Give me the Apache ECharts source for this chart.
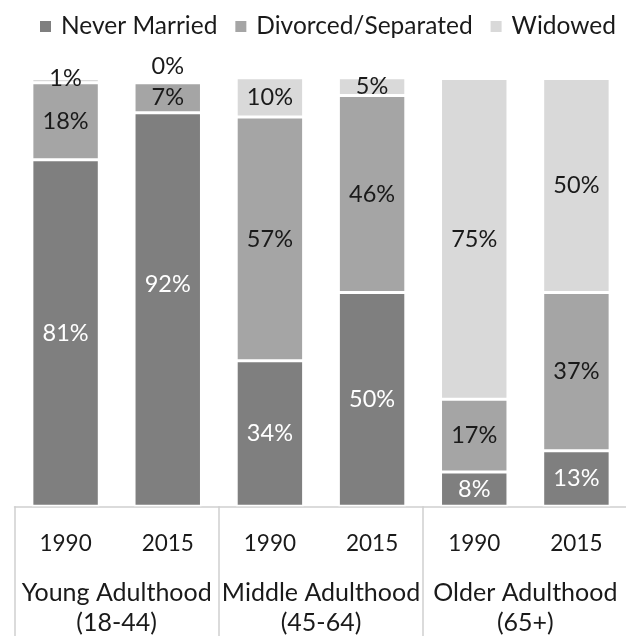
<!DOCTYPE html>
<html>
<head>
<meta charset="utf-8">
<script src="https://cdn.jsdelivr.net/npm/echarts@6/dist/echarts.min.js"></script>
<style>
html,body{margin:0;padding:0;background:#fff;}
#chart{width:626px;height:636px;}
</style>
</head>
<body>
<div id="chart"></div>
<script>
var years = ['1990', '2015', '1990', '2015', '1990', '2015'];
var groups = ['Young Adulthood\n(18-44)', 'Middle Adulthood\n(45-64)', 'Older Adulthood\n(65+)'];
var seriesNames = ['Never Married', 'Divorced/Separated', 'Widowed'];
var neverMarried = [81, 92, 34, 50, 8, 13];
var divorcedSeparated = [18, 7, 57, 46, 17, 37];
var widowed = [1, 0, 10, 5, 75, 50];

var FONT = 'Lato';
var colors = ['#7f7f7f', '#a5a5a5', '#d9d9d9'];

function mkData(arr, sIdx) {
  return arr.map(function (v, i) {
    var d = { value: v };
    if (sIdx === 0 && i === 1) d.label = { offset: [0, -25] };
    if (sIdx === 2 && v === 0) d.label = { position: 'top', distance: 4 };
    if (sIdx === 2 && v === 1) d.label = { offset: [0, -2] };
    return d;
  });
}

var chart = echarts.init(document.getElementById('chart'), null, { renderer: 'canvas' });
var allData = [neverMarried, divorcedSeparated, widowed];
var series = seriesNames.map(function (name, s) {
  return {
    name: name,
    type: 'bar',
    stack: 'total',
    xAxisIndex: 0,
    barCategoryGap: '34%',
    itemStyle: { color: colors[s], borderColor: '#ffffff', borderWidth: 1.5 },
    label: {
      show: true,
      position: 'inside',
      formatter: '{c}%',
      fontFamily: FONT,
      fontSize: 23.5,
      color: s === 0 ? '#ffffff' : '#1a1a1a'
    },
    data: mkData(allData[s], s)
  };
});

chart.setOption({
  animation: false,
  backgroundColor: '#ffffff',
  textStyle: { fontFamily: FONT },
  legend: {
    left: 38,
    top: 14,
    width: 600,
    padding: 0,
    itemWidth: 13,
    itemHeight: 13,
    itemGap: 16,
    icon: 'rect',
    textStyle: { fontFamily: FONT, fontSize: 24.5, color: '#1a1a1a', padding: [0, 0, 0, 4] },
    data: seriesNames
  },
  grid: { left: 14.5, right: -1.5, top: 78.5, bottom: 129.7, containLabel: false, outerBoundsMode: 'none' },
  xAxis: [
    {
      type: 'category',
      data: years,
      position: 'bottom',
      axisLine: { show: true, lineStyle: { color: '#d0d0d0', width: 1.5 } },
      axisTick: { show: false },
      axisLabel: { fontFamily: FONT, fontSize: 22.5, color: '#1a1a1a', margin: 22, lineHeight: 30, interval: 0 }
    },
    {
      type: 'category',
      data: groups,
      position: 'bottom',
      offset: 0,
      axisLine: { show: false },
      axisTick: { show: true, interval: 0, length: 132, alignWithLabel: false, lineStyle: { color: '#d0d0d0', width: 1.5 } },
      axisLabel: { fontFamily: FONT, fontSize: 25, color: '#1a1a1a', margin: 72, lineHeight: 30, interval: 0 }
    }
  ],
  yAxis: {
    type: 'value',
    min: 0,
    max: 100,
    show: false,
    splitLine: { show: false }
  },
  series: series
});
</script>
</body>
</html>
